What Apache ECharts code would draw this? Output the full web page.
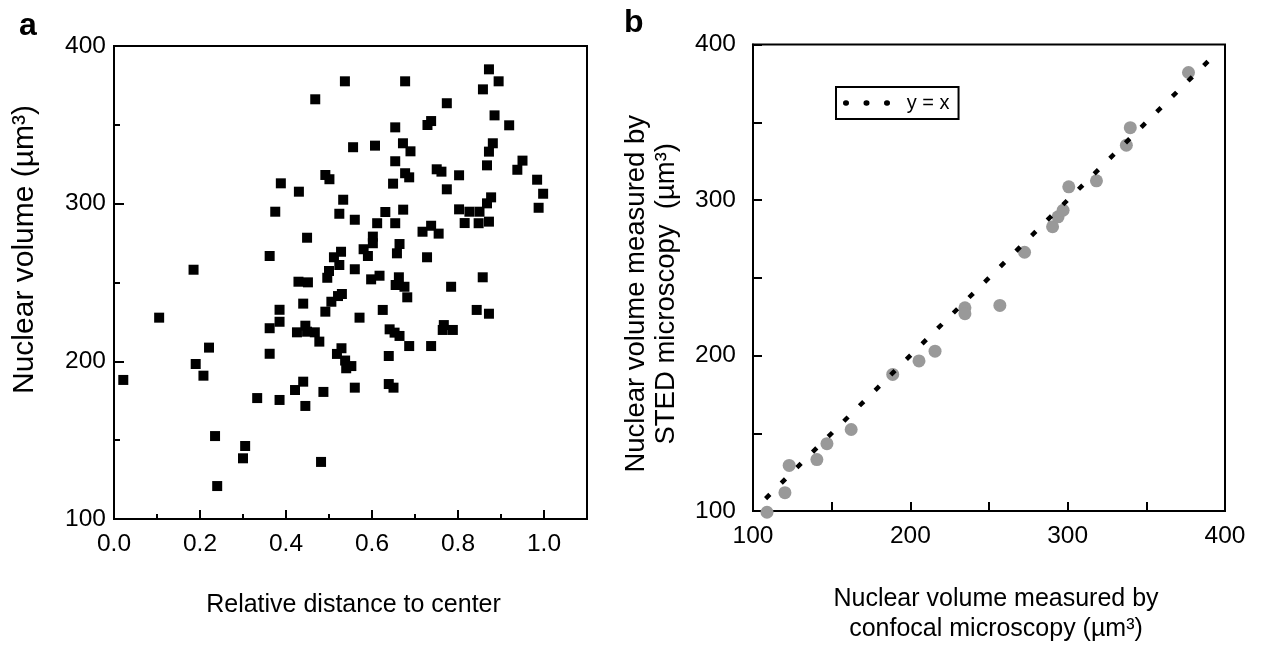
<!DOCTYPE html>
<html>
<head>
<meta charset="utf-8">
<script src="https://cdn.jsdelivr.net/npm/echarts@6/dist/echarts.min.js"></script>
<style>
html,body{margin:0;padding:0;background:#fff;}
#chart{width:1261px;height:649px;}
</style>
</head>
<body>
<div id="chart"></div>
<script>
// Panel a: relative distance to center vs nuclear volume
const distX = [0.537,0.468,0.556,0.4915,0.501,0.388,0.430,0.533,0.375,0.524,0.449,0.362,0.528,0.5115,0.524,0.500,0.496,0.185,0.429,0.451,0.530,0.521,0.5055,0.440,0.385,0.4915,0.105,0.385,0.362,0.445,0.4255,0.449,0.467,0.4775,0.221,0.362,0.190,0.208,0.0216,0.529,0.5185,0.5375,0.552,0.540,0.440,0.421,0.487,0.333,0.385,0.445,0.235,0.305,0.300,0.4815,0.240,
0.677,0.872,0.8945,0.858,0.774,0.654,0.729,0.7375,0.885,0.919,0.607,0.672,0.6895,0.881,0.872,0.654,0.8675,0.950,0.938,0.7505,0.7615,0.677,0.6865,0.8025,0.649,0.774,0.984,0.998,0.9875,0.877,0.8675,0.8025,0.8265,0.850,0.8155,0.848,0.872,0.631,0.6725,0.560,0.612,0.654,0.7175,0.7375,0.755,0.602,0.602,0.5805,0.5905,0.664,0.658,0.728,0.560,0.598,0.6175,0.6625,0.655,0.6755,0.784,0.8575,0.682,0.625,0.571,0.8435,0.872,0.641,0.6525,0.664,0.767,0.7645,0.788,0.6865,0.7375,0.639,0.560,0.639,0.650];
const volY = [377.6,366.2,335.8,318.2,315.5,312.9,307.6,302.5,294.9,293.6,278.4,266.8,269.5,266.0,261.1,257.3,253.0,258.1,250.5,250.1,242.7,241.4,237.8,236.6,232.7,231.5,227.7,225.1,221.0,222.6,218.4,218.8,218.4,212.5,208.7,204.8,198.3,190.9,188.2,208.3,204.7,200.5,197.0,195.6,187.1,181.8,180.6,176.7,175.5,171.7,152.6,146.3,138.5,136.2,120.9,
377.6,385.2,377.6,372.5,363.7,348.4,349.9,352.4,356.0,349.7,336.8,338.3,333.2,338.3,333.0,326.9,324.3,327.3,321.5,321.8,320.3,319.3,316.7,318.0,312.7,309.1,315.2,306.3,297.4,304.0,300.2,296.4,294.9,294.9,287.7,287.6,288.6,294.7,296.2,289.8,287.6,287.6,282.2,286.0,281.0,279.1,274.9,271.1,266.8,274.4,268.5,266.0,258.4,252.0,254.3,253.3,248.4,247.3,247.3,253.3,240.6,232.6,227.7,232.6,230.2,220.3,218.2,216.1,223.0,219.9,219.9,209.7,209.7,203.4,183.3,185.6,183.3];

// Panel b: confocal vs STED
const confocal = [108.9,120.3,123.0,140.6,147.0,162.4,188.8,205.5,215.7,234.7,234.7,256.9,272.6,290.4,293.9,297.1,300.7,318.3,337.3,339.8,376.8];
const sted     = [99.2,111.8,129.3,133.1,143.3,152.4,187.8,196.5,202.8,230.7,226.9,232.2,266.4,282.8,289.2,293.4,308.5,312.3,335.2,346.5,382.0];
const identityLine = [108, 393];

// Tick values
const aXMajor = [0, 0.2, 0.4, 0.6, 0.8, 1.0];
const aXMinor = [0.1, 0.3, 0.5, 0.7, 0.9];
const aYMajor = [100, 200, 300, 400];
const aYMinor = [150, 250, 350];
const bMajor = [100, 200, 300, 400];

const FONT = '"Liberation Sans", Arial, sans-serif';
const axisLine = {show: true, lineStyle: {color: '#000', width: 2}};

const chart = echarts.init(document.getElementById('chart'));
const option = {
  animation: false,
  backgroundColor: '#fff',
  textStyle: {fontFamily: FONT, color: '#000'},
  title: [
    {text: 'a', left: 14, top: 5, textStyle: {fontFamily: FONT, fontSize: 32, fontWeight: 'bold', color: '#000'}},
    {text: 'b', left: 619, top: 2, textStyle: {fontFamily: FONT, fontSize: 32, fontWeight: 'bold', color: '#000'}}
  ],
  grid: [
    {left: 114, top: 46, width: 473, height: 473, show: true, borderColor: '#000', borderWidth: 2, backgroundColor: 'transparent'},
    {left: 753, top: 44.5, width: 472, height: 473.5, show: true, borderColor: '#000', borderWidth: 2, backgroundColor: 'transparent'}
  ],
  legend: {
    data: ['y = x'],
    left: 836, top: 87,
    orient: 'horizontal',
    borderColor: '#000', borderWidth: 2,
    padding: [6, 9, 6, 7],
    itemWidth: 48, itemHeight: 14, itemGap: 0,
    itemStyle: {opacity: 0},
    lineStyle: {color: '#000', width: 5.5, type: [0.5, 20], cap: 'round'},
    textStyle: {fontFamily: FONT, fontSize: 20, color: '#000', padding: [0, 0, 0, 8]}
  },
  xAxis: [
    {gridIndex: 0, type: 'value', min: 0, max: 1.1, interval: 0.1,
     name: 'Relative distance to center', nameLocation: 'middle', nameGap: 74,
     nameTextStyle: {fontFamily: FONT, fontSize: 25, color: '#000', padding: [0, 0, 0, 6]},
     axisLine: axisLine,
     axisTick: {show: true, inside: true, length: 9, customValues: aXMajor, lineStyle: {color: '#000', width: 2}},
     axisLabel: {customValues: aXMajor, formatter: v => v.toFixed(1), margin: 13, fontFamily: FONT, fontSize: 24.5, color: '#000'},
     splitLine: {show: false}},
    {gridIndex: 0, type: 'value', position: 'bottom', min: 0, max: 1.1, interval: 0.1,
     axisLine: {show: false},
     axisTick: {show: true, inside: true, length: 5, customValues: aXMinor, lineStyle: {color: '#000', width: 2}},
     axisLabel: {show: false}, splitLine: {show: false}},
    {gridIndex: 1, type: 'value', min: 100, max: 400, interval: 50,
     name: 'Nuclear volume measured by\nconfocal microscopy (µm³)', nameLocation: 'middle', nameGap: 73,
     nameTextStyle: {fontFamily: FONT, fontSize: 25, color: '#000', lineHeight: 30, padding: [0, 0, 0, 14]},
     axisLine: axisLine,
     axisTick: {show: true, inside: true, length: 9, lineStyle: {color: '#000', width: 2}},
     axisLabel: {customValues: bMajor, margin: 13, fontFamily: FONT, fontSize: 24.5, color: '#000'},
     splitLine: {show: false}},
  ],
  yAxis: [
    {gridIndex: 0, type: 'value', min: 100, max: 400, interval: 50,
     name: 'Nuclear volume (µm³)', nameLocation: 'middle', nameGap: 74,
     nameTextStyle: {fontFamily: FONT, fontSize: 30, color: '#000', padding: [0, 0, 0, 66]},
     axisLine: axisLine,
     axisTick: {show: true, inside: true, length: 10, customValues: aYMajor, lineStyle: {color: '#000', width: 2}},
     axisLabel: {customValues: aYMajor, margin: 8, fontFamily: FONT, fontSize: 24.5, color: '#000'},
     splitLine: {show: false}},
    {gridIndex: 0, type: 'value', position: 'left', min: 100, max: 400, interval: 50,
     axisLine: {show: false},
     axisTick: {show: true, inside: true, length: 6, customValues: aYMinor, lineStyle: {color: '#000', width: 2}},
     axisLabel: {show: false}, splitLine: {show: false}},
    {gridIndex: 1, type: 'value', min: 100, max: 400, interval: 50,
     name: 'Nuclear volume measured by\nSTED microscopy  (µm³)', nameLocation: 'middle', nameGap: 72,
     nameTextStyle: {fontFamily: FONT, fontSize: 27.5, color: '#000', lineHeight: 30, padding: [0, 32, 0, 0]},
     axisLine: axisLine,
     axisTick: {show: true, inside: true, length: 9, lineStyle: {color: '#000', width: 2}},
     axisLabel: {customValues: bMajor, margin: 17, fontFamily: FONT, fontSize: 24.5, color: '#000'},
     splitLine: {show: false}}
  ],
  series: [
    {type: 'scatter', xAxisIndex: 0, yAxisIndex: 0, symbol: 'rect', symbolSize: 10, clip: false,
     itemStyle: {color: '#000', opacity: 1},
     data: distX.map((x, i) => [x, volY[i]])},
    {type: 'scatter', xAxisIndex: 2, yAxisIndex: 2, symbol: 'circle', symbolSize: 13, clip: false,
     itemStyle: {color: '#999999', opacity: 1},
     data: confocal.map((x, i) => [x, sted[i]])},
    {name: 'y = x', type: 'line', xAxisIndex: 2, yAxisIndex: 2, symbol: 'none', clip: false,
     lineStyle: {color: '#000', width: 4.5, type: [6, 16], cap: 'butt'},
     itemStyle: {color: '#000'},
     data: identityLine.map(v => [v, v])}
  ]
};
chart.setOption(option);
</script>
</body>
</html>
